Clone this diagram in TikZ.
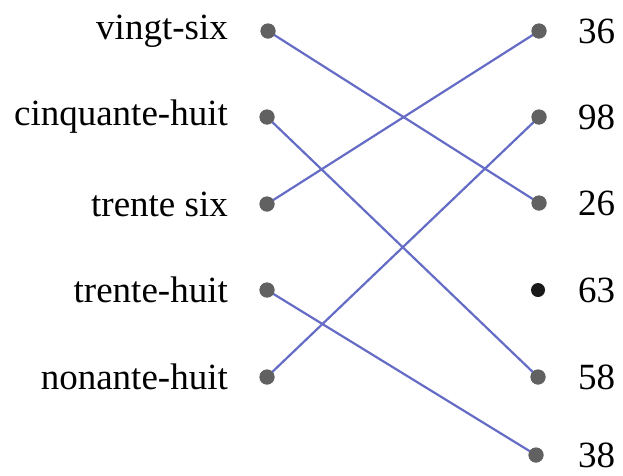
\documentclass[tikz,border=0pt]{standalone}
\usepackage{fontspec}
\setmainfont{Liberation Serif}
\begin{document}
\begin{tikzpicture}[x=1pt,y=-1pt,
  dot/.style={circle,fill=black!62,inner sep=0pt,minimum size=15pt},
  bdot/.style={circle,fill=black!90,inner sep=0pt,minimum size=14pt},
  link/.style={draw={rgb,255:red,100;green,108;blue,198},line width=2.2pt},
  llab/.style={anchor=east,font=\fontsize{37}{42}\selectfont,inner sep=0pt},
  rlab/.style={anchor=west,font=\fontsize{37}{42}\selectfont,inner sep=0pt}]
\useasboundingbox (0,0) rectangle (623,475);
% left dots
\node[dot] (L1) at (268,31) {};
\node[dot] (L2) at (267,117) {};
\node[dot] (L3) at (267,204) {};
\node[dot] (L4) at (267,290) {};
\node[dot] (L5) at (267,377) {};
% right dots
\node[dot] (R1) at (539,31) {};
\node[dot] (R2) at (539,117) {};
\node[dot] (R3) at (539,203) {};
\node[bdot] (R4) at (538,290) {};
\node[dot] (R5) at (538,377) {};
\node[dot] (R6) at (536,455) {};
% labels
\node[llab] (t1) at (228,31) {vingt-six};
\node[llab] (t2) at (228,117) {cinquante-huit};
\node[llab] (t3) at (228,204) {trente six};
\node[llab] (t4) at (228,290) {trente-huit};
\node[llab] (t5) at (228,377) {nonante-huit};
\node[rlab] (n1) at (578,31) {36};
\node[rlab] (n2) at (578,117) {98};
\node[rlab] (n3) at (578,203) {26};
\node[rlab] (n4) at (578,290) {63};
\node[rlab] (n5) at (578,377) {58};
\node[rlab] (n6) at (578,455) {38};
% connectors
\draw[link] (L1.center) -- (R3.center);
\draw[link] (L2.center) -- (R5.center);
\draw[link] (L3.center) -- (R1.center);
\draw[link] (L4.center) -- (R6.center);
\draw[link] (L5.center) -- (R2.center);
% redraw dots on top
\foreach \n in {L1,L2,L3,L4,L5,R1,R2,R3,R5,R6} {\fill[black!62] (\n) circle (7.5pt);}
\end{tikzpicture}
\end{document}
